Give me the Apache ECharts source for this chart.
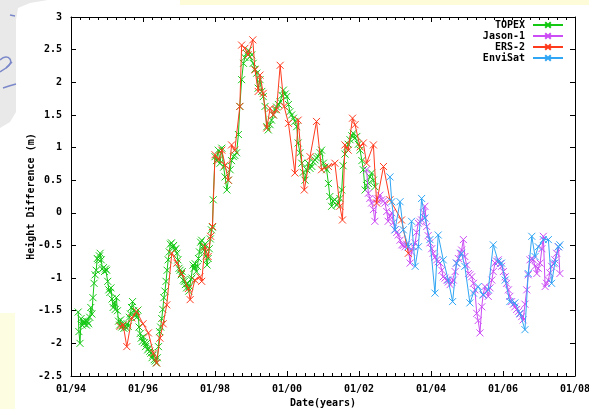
<!DOCTYPE html>
<html>
<head>
<meta charset="utf-8">
<script src="https://cdn.jsdelivr.net/npm/echarts@6/dist/echarts.min.js"></script>
<style>
  html, body { margin: 0; padding: 0; background: #ffffff; overflow: hidden; }
  #chart { width: 589px; height: 409px; }
</style>
</head>
<body>
<div id="chart"></div>
<script>
// Sea surface height difference by satellite mission, [decimal year, metres]
const topex = [
  [1994.20,-1.52],[1994.22,-1.82],[1994.25,-2.00],[1994.28,-1.62],[1994.31,-1.72],[1994.34,-1.66],
  [1994.37,-1.70],[1994.40,-1.65],[1994.43,-1.72],[1994.46,-1.67],[1994.49,-1.70],[1994.52,-1.60],
  [1994.55,-1.45],[1994.58,-1.55],[1994.61,-1.30],[1994.64,-1.08],[1994.67,-0.95],[1994.70,-0.88],
  [1994.73,-0.70],[1994.76,-0.72],[1994.79,-0.66],[1994.81,-0.62],[1994.84,-0.72],[1994.87,-0.86],
  [1994.90,-0.84],[1994.93,-0.90],[1994.96,-0.86],[1994.99,-0.88],[1995.02,-1.05],[1995.05,-1.18],
  [1995.08,-1.22],[1995.11,-1.15],[1995.14,-1.32],[1995.17,-1.45],[1995.20,-1.38],[1995.23,-1.48],
  [1995.26,-1.30],[1995.29,-1.50],[1995.32,-1.66],[1995.35,-1.72],[1995.38,-1.64],[1995.41,-1.75],
  [1995.44,-1.72],[1995.47,-1.77],[1995.50,-1.73],[1995.53,-1.76],[1995.56,-1.70],[1995.59,-1.74],
  [1995.62,-1.60],[1995.65,-1.55],[1995.68,-1.45],[1995.71,-1.36],[1995.74,-1.50],[1995.77,-1.58],
  [1995.80,-1.52],[1995.83,-1.60],[1995.86,-1.49],[1995.89,-1.75],[1995.92,-1.85],[1995.95,-1.92],
  [1995.98,-1.97],[1996.01,-1.90],[1996.04,-1.99],[1996.07,-2.05],[1996.10,-2.00],[1996.13,-2.10],
  [1996.16,-2.07],[1996.19,-2.12],[1996.22,-2.15],[1996.25,-2.22],[1996.28,-2.18],[1996.31,-2.25],
  [1996.34,-2.27],[1996.37,-2.30],[1996.40,-2.22],[1996.43,-2.05],[1996.46,-1.82],[1996.49,-1.75],
  [1996.52,-1.62],[1996.55,-1.48],[1996.58,-1.30],[1996.61,-1.20],[1996.64,-1.05],[1996.67,-0.88],
  [1996.70,-0.72],[1996.73,-0.60],[1996.76,-0.48],[1996.79,-0.46],[1996.82,-0.52],[1996.85,-0.50],
  [1996.88,-0.57],[1996.91,-0.55],[1996.94,-0.62],[1996.97,-0.72],[1997.00,-0.85],[1997.03,-0.88],
  [1997.06,-0.95],[1997.09,-0.90],[1997.12,-1.03],[1997.15,-1.05],[1997.18,-1.10],[1997.21,-1.15],
  [1997.24,-1.08],[1997.27,-1.20],[1997.30,-1.13],[1997.33,-1.02],[1997.36,-1.00],[1997.39,-0.80],
  [1997.42,-0.85],[1997.45,-0.78],[1997.48,-0.90],[1997.51,-0.82],[1997.54,-0.70],[1997.57,-0.60],
  [1997.60,-0.45],[1997.63,-0.42],[1997.66,-0.52],[1997.69,-0.57],[1997.72,-0.48],[1997.75,-0.66],
  [1997.78,-0.80],[1997.81,-0.70],[1997.84,-0.55],[1997.87,-0.40],[1997.90,-0.26],[1997.93,-0.22],
  [1997.95,0.20],[1998.00,0.86],[1998.04,0.80],[1998.09,0.96],[1998.14,0.76],[1998.19,0.99],
  [1998.24,0.70],[1998.28,0.55],[1998.33,0.35],[1998.37,0.50],[1998.42,0.66],[1998.46,0.80],
  [1998.51,0.86],[1998.55,0.88],[1998.60,0.92],[1998.65,1.20],[1998.69,1.63],[1998.74,2.04],
  [1998.79,2.29],[1998.83,2.38],[1998.88,2.44],[1998.93,2.49],[1998.97,2.39],[1999.02,2.42],
  [1999.06,2.29],[1999.11,2.20],[1999.16,2.14],[1999.20,1.91],[1999.25,2.04],[1999.30,1.86],
  [1999.34,1.78],[1999.39,1.63],[1999.44,1.32],[1999.48,1.27],[1999.53,1.35],[1999.57,1.42],
  [1999.62,1.50],[1999.67,1.58],[1999.71,1.62],[1999.76,1.66],[1999.81,1.70],[1999.86,1.80],
  [1999.90,1.88],[1999.95,1.82],[1999.99,1.78],[2000.04,1.66],[2000.08,1.55],[2000.13,1.50],
  [2000.18,1.45],[2000.22,1.40],[2000.27,1.32],[2000.31,1.07],[2000.36,0.92],[2000.41,0.76],
  [2000.45,0.62],[2000.50,0.50],[2000.55,0.66],[2000.59,0.76],[2000.64,0.68],[2000.69,0.71],
  [2000.73,0.78],[2000.78,0.81],[2000.82,0.84],[2000.87,0.86],[2000.92,0.92],[2000.96,0.96],
  [2001.01,0.76],[2001.05,0.70],[2001.10,0.66],[2001.15,0.45],[2001.19,0.25],[2001.24,0.10],
  [2001.28,0.18],[2001.33,0.20],[2001.38,0.12],[2001.42,0.15],[2001.47,0.22],[2001.52,0.35],
  [2001.56,0.72],[2001.61,0.90],[2001.66,1.01],[2001.70,1.05],[2001.75,1.12],[2001.80,1.18],
  [2001.84,1.22],[2001.89,1.15],[2001.94,1.17],[2001.98,1.05],[2002.03,0.96],[2002.08,0.80],
  [2002.12,0.66],[2002.17,0.35],[2002.21,0.42],[2002.26,0.45],[2002.30,0.55],[2002.35,0.61],
  [2002.40,0.50],[2002.44,0.40]
];

const jason1 = [
  [2002.21,0.66],[2002.26,0.30],[2002.30,0.22],[2002.35,0.15],[2002.40,0.05],[2002.44,-0.13],
  [2002.49,0.20],[2002.53,0.22],[2002.58,0.27],[2002.63,0.20],[2002.68,0.18],[2002.72,0.15],
  [2002.77,0.02],[2002.81,-0.13],[2002.86,-0.05],[2002.91,0.00],[2002.95,-0.15],[2003.00,-0.26],
  [2003.05,-0.30],[2003.09,-0.34],[2003.14,-0.42],[2003.19,-0.49],[2003.23,-0.50],[2003.28,-0.52],
  [2003.32,-0.48],[2003.37,-0.52],[2003.42,-0.77],[2003.46,-0.60],[2003.51,-0.52],[2003.56,-0.46],
  [2003.60,-0.30],[2003.65,-0.16],[2003.70,-0.14],[2003.74,-0.11],[2003.79,0.00],[2003.83,0.10],
  [2003.88,-0.21],[2003.92,-0.35],[2003.97,-0.46],[2004.02,-0.55],[2004.06,-0.62],[2004.11,-0.68],
  [2004.16,-0.72],[2004.20,-0.75],[2004.25,-0.77],[2004.30,-0.88],[2004.34,-0.98],[2004.39,-1.00],
  [2004.44,-1.03],[2004.48,-1.06],[2004.53,-1.10],[2004.58,-1.06],[2004.62,-1.03],[2004.67,-0.90],
  [2004.71,-0.77],[2004.76,-0.70],[2004.81,-0.62],[2004.85,-0.57],[2004.90,-0.41],[2004.94,-0.67],
  [2004.99,-0.80],[2005.04,-0.93],[2005.08,-0.95],[2005.13,-0.98],[2005.18,-1.08],[2005.22,-1.18],
  [2005.27,-1.54],[2005.31,-1.65],[2005.36,-1.84],[2005.41,-1.44],[2005.45,-1.25],[2005.50,-1.13],
  [2005.55,-1.20],[2005.59,-1.28],[2005.64,-1.15],[2005.69,-1.03],[2005.73,-0.90],[2005.78,-0.77],
  [2005.82,-0.74],[2005.87,-0.72],[2005.92,-0.78],[2005.96,-0.82],[2006.01,-0.90],[2006.06,-0.98],
  [2006.10,-1.08],[2006.15,-1.18],[2006.19,-1.28],[2006.24,-1.36],[2006.29,-1.40],[2006.33,-1.44],
  [2006.38,-1.48],[2006.43,-1.51],[2006.47,-1.55],[2006.52,-1.59],[2006.56,-1.64],[2006.61,-1.40],
  [2006.66,-1.18],[2006.70,-0.95],[2006.75,-0.72],[2006.80,-0.70],[2006.84,-0.72],[2006.89,-0.82],
  [2006.94,-0.93],[2006.98,-0.85],[2007.03,-0.77],[2007.08,-0.55],[2007.12,-0.36],[2007.17,-1.13],
  [2007.21,-1.08],[2007.26,-1.03],[2007.30,-0.92],[2007.35,-0.82],[2007.40,-0.78],[2007.44,-0.72],
  [2007.49,-0.62],[2007.54,-0.52],[2007.58,-0.93]
];

const ers2 = [
  [1995.36,-1.74],[1995.45,-1.72],[1995.55,-2.05],[1995.69,-1.61],[1995.82,-1.51],[1996.00,-1.70],
  [1996.15,-1.84],[1996.29,-2.15],[1996.38,-2.30],[1996.47,-1.92],[1996.56,-1.70],[1996.66,-1.41],
  [1996.80,-0.62],[1996.94,-0.77],[1997.07,-0.93],[1997.26,-1.16],[1997.31,-1.33],[1997.44,-1.03],
  [1997.58,-0.98],[1997.63,-1.05],[1997.72,-0.52],[1997.81,-0.67],[1997.88,-0.36],[1997.93,-0.21],
  [1998.00,0.89],[1998.10,0.81],[1998.19,0.96],[1998.28,0.73],[1998.37,0.50],[1998.46,1.04],
  [1998.55,0.96],[1998.69,1.63],[1998.74,2.57],[1998.83,2.52],[1998.92,2.42],[1999.05,2.65],
  [1999.11,2.19],[1999.20,1.86],[1999.25,2.11],[1999.34,1.83],[1999.44,1.30],[1999.53,1.60],
  [1999.62,1.50],[1999.71,1.58],[1999.81,2.26],[1999.92,1.63],[2000.04,1.37],[2000.22,0.61],
  [2000.31,1.42],[2000.48,0.35],[2000.64,0.86],[2000.82,1.40],[2000.96,0.66],[2001.15,0.71],
  [2001.33,0.76],[2001.47,0.10],[2001.54,-0.11],[2001.61,1.04],[2001.70,0.96],[2001.82,1.45],
  [2001.89,1.35],[2002.03,1.01],[2002.12,1.07],[2002.21,0.76],[2002.40,1.04],[2002.49,0.15],
  [2002.68,0.71],[2002.86,0.20],[2003.18,-0.11],[2003.37,-0.62]
];

const envisat = [
  [2002.86,0.55],[2002.91,0.17],[2003.00,-0.26],[2003.14,0.17],[2003.23,-0.26],[2003.37,-0.52],
  [2003.46,-0.13],[2003.56,-0.82],[2003.65,-0.52],[2003.74,0.22],[2003.83,-0.08],[2003.97,-0.41],
  [2004.11,-1.23],[2004.20,-0.34],[2004.34,-0.72],[2004.48,-1.03],[2004.60,-1.36],[2004.71,-0.77],
  [2004.85,-0.62],[2004.94,-0.82],[2005.08,-1.38],[2005.18,-1.23],[2005.31,-1.13],[2005.45,-1.26],
  [2005.59,-1.18],[2005.73,-0.49],[2005.87,-0.75],[2005.96,-0.77],[2006.06,-1.03],[2006.19,-1.36],
  [2006.33,-1.38],[2006.47,-1.54],[2006.61,-1.79],[2006.70,-0.93],[2006.80,-0.36],[2006.89,-0.67],
  [2006.98,-0.52],[2007.12,-0.41],[2007.26,-0.41],[2007.35,-1.08],[2007.44,-0.77],[2007.54,-0.52],
  [2007.58,-0.49]
];

const seriesNames = ['TOPEX', 'Jason-1', 'ERS-2', 'EnviSat'];
const seriesColors = ['#14c814', '#cc4cf5', '#ff3b1e', '#30a6f5'];
const seriesData = [topex, jason1, ers2, envisat];

const yTicks = { min: -2.5, max: 3, step: 0.5 };
const xTicks = { min: 1994, max: 2008, step: 2 };

const FONT = '"DejaVu Sans Mono", "Liberation Mono", monospace';
const crossMark = 'path://M0 0L10 10M10 0L0 10';

const chart = echarts.init(document.getElementById('chart'), null, { renderer: 'canvas' });

const labelStyle = { color: '#000', fontFamily: FONT, fontWeight: 'bold', fontSize: 10 };

function yearLabel(v) {
  const yy = String(Math.round(v) % 100).padStart(2, '0');
  return '01/' + yy;
}

const baseX = {
  type: 'value', min: xTicks.min, max: xTicks.max, interval: xTicks.step,
  axisLine: { show: true, onZero: false, lineStyle: { color: '#000', width: 1 } },
  axisTick: { show: true, inside: true, length: 5, lineStyle: { color: '#000' } },
  minorTick: { show: true, splitNumber: 8, length: 3, lineStyle: { color: '#000' } },
  splitLine: { show: false }
};
const baseY = {
  type: 'value', min: yTicks.min, max: yTicks.max, interval: yTicks.step,
  axisLine: { show: true, onZero: false, lineStyle: { color: '#000', width: 1 } },
  axisTick: { show: true, inside: true, length: 5, lineStyle: { color: '#000' } },
  splitLine: { show: false }
};

const option = {
  animation: false,
  backgroundColor: '#ffffff',
  graphic: [
    // page decoration around the plot
    { type: 'polygon', silent: true, z: -10,
      shape: { points: [[0,0],[48,0],[30,3],[18,8],[16,20],[16,112],[10,122],[0,128]] },
      style: { fill: '#e9e9e9' } },
    { type: 'rect', silent: true, z: -10, shape: { x: 180, y: 0, width: 409, height: 5 },
      style: { fill: '#fdfbd8' } },
    { type: 'rect', silent: true, z: -10, shape: { x: 0, y: 313, width: 15, height: 96 },
      style: { fill: '#fdfde2' } },
    { type: 'polyline', silent: true, z: -9,
      shape: { points: [[10,15],[15,16]] }, style: { stroke: '#7b88c9', lineWidth: 1.5, fill: null } },
    { type: 'bezierCurve', silent: true, z: -9,
      shape: { x1: 0, y1: 60, cpx1: 8, cpy1: 52, cpx2: 16, cpy2: 62, x2: 6, y2: 68 },
      style: { stroke: '#7b88c9', lineWidth: 1.5, fill: null } },
    { type: 'polyline', silent: true, z: -9,
      shape: { points: [[0,72],[6,68],[12,62]] }, style: { stroke: '#7b88c9', lineWidth: 1.5, fill: null } },
    { type: 'polyline', silent: true, z: -9,
      shape: { points: [[3,88],[9,86],[16,84]] }, style: { stroke: '#7b88c9', lineWidth: 1.5, fill: null } }
  ],
  grid: { left: 71, right: 14, top: 17, bottom: 33, containLabel: false, outerBoundsMode: 'none', show: false },
  legend: {
    data: seriesNames,
    orient: 'vertical',
    right: 25, top: 20,
    padding: 0,
    align: 'right',
    itemWidth: 30, itemHeight: 7, itemGap: 1,
    textStyle: { color: '#000', fontFamily: FONT, fontWeight: 'bold', fontSize: 10, lineHeight: 10, padding: [0, 3, 0, 0] },
    backgroundColor: 'transparent'
  },
  xAxis: [
    Object.assign({}, baseX, {
      position: 'bottom',
      axisLabel: Object.assign({ margin: 8, formatter: yearLabel }, labelStyle),
      name: 'Date(years)', nameLocation: 'middle', nameGap: 22, nameMoveOverlap: false,
      nameTextStyle: Object.assign({}, labelStyle)
    }),
    Object.assign({}, baseX, { position: 'top', axisLabel: { show: false } })
  ],
  yAxis: [
    Object.assign({}, baseY, {
      position: 'left',
      axisLabel: Object.assign({ margin: 9 }, labelStyle),
      name: 'Height Difference (m)', nameLocation: 'middle', nameGap: 35, nameMoveOverlap: false,
      nameTextStyle: Object.assign({}, labelStyle)
    }),
    Object.assign({}, baseY, { position: 'right', axisLabel: { show: false } })
  ],
  series: seriesNames.map((name, i) => ({
    name: name,
    type: 'line',
    xAxisIndex: 0, yAxisIndex: 0,
    data: seriesData[i],
    symbol: crossMark,
    symbolSize: 7,
    showSymbol: true,
    showAllSymbol: true,
    clip: true,
    z: 2 + i,
    lineStyle: { color: seriesColors[i], width: 1 },
    itemStyle: { color: seriesColors[i], borderColor: seriesColors[i], borderWidth: 1 },
    emphasis: { disabled: true }
  }))
};

chart.setOption(option);
</script>
</body>
</html>
